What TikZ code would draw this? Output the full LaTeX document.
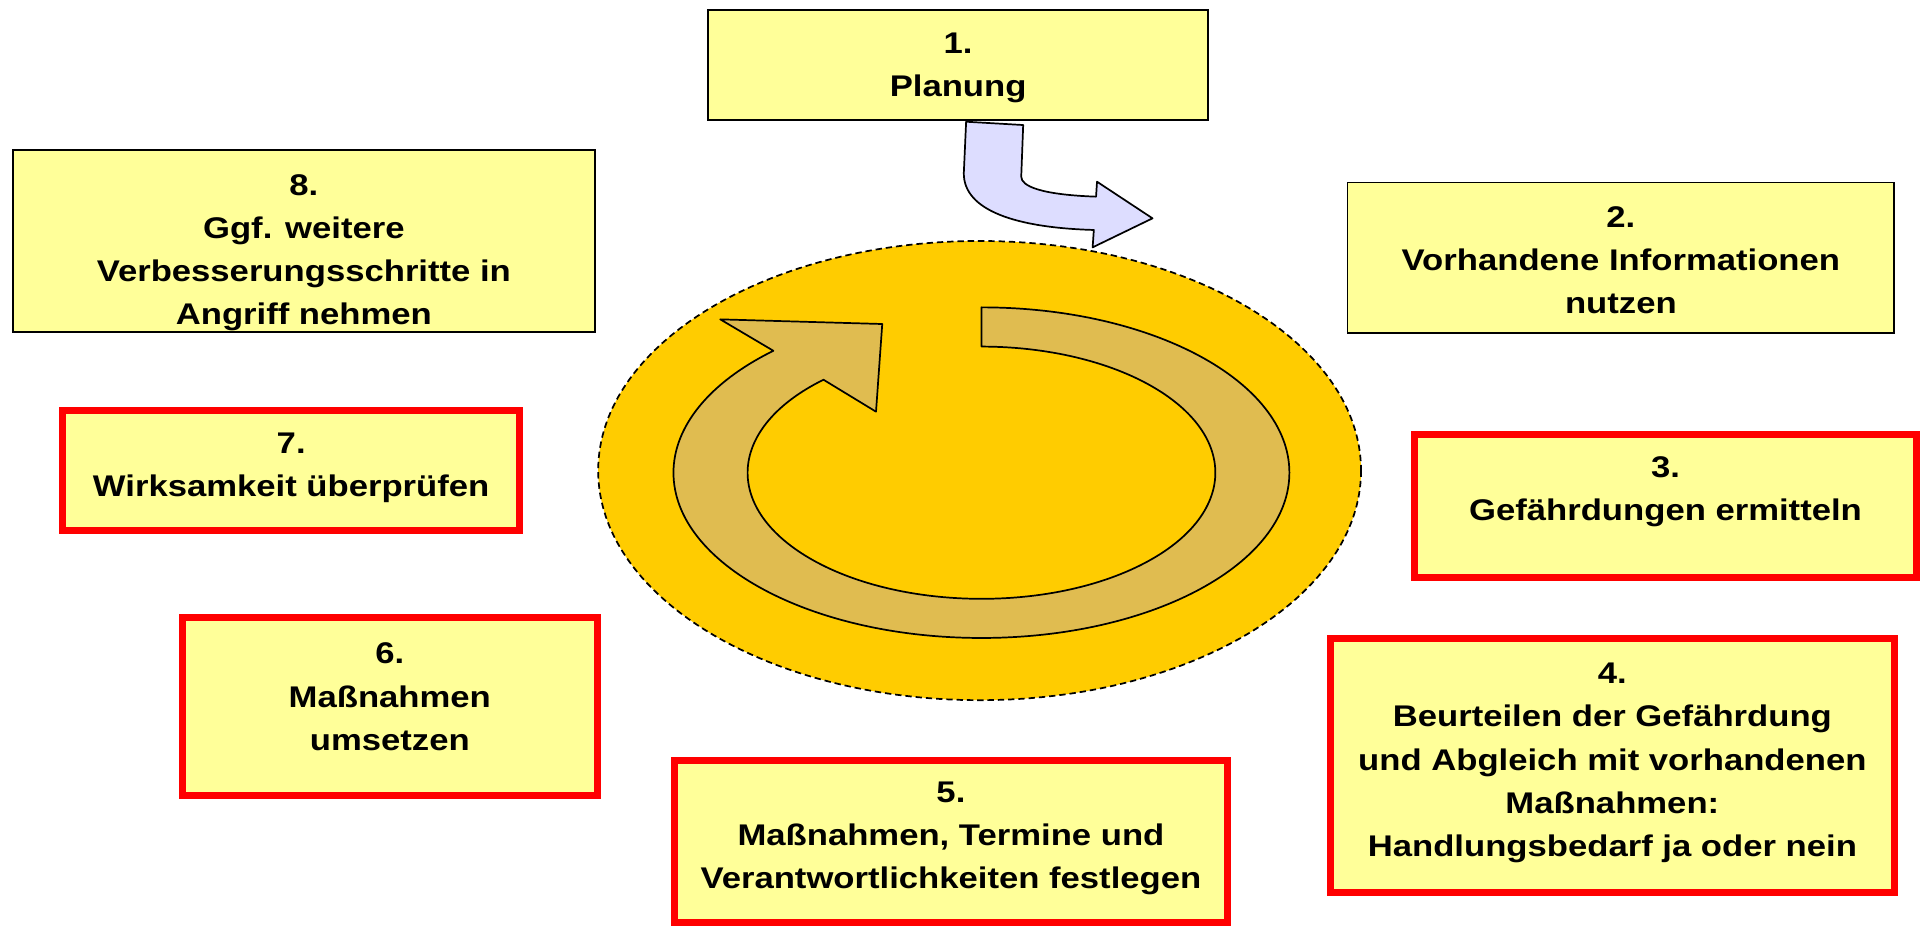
\documentclass[tikz,border=0pt]{standalone}
\usepackage{fontspec}
\setmainfont{Liberation Sans}[FakeStretch=1.16]
\definecolor{boxyellow}{RGB}{255,255,153}
\definecolor{boxred}{RGB}{255,0,0}
\definecolor{gold}{RGB}{255,204,0}
\definecolor{bandgold}{RGB}{224,188,80}
\definecolor{lavender}{RGB}{221,221,255}
\tikzset{
  plainbox/.style={draw=black, line width=0.75pt, fill=boxyellow, rectangle, inner sep=0pt},
  redbox/.style={draw=boxred, line width=2.85pt, fill=boxyellow, rectangle, inner sep=0pt},
  boxtext/.style={font=\fontsize{12.2pt}{17.6pt}\selectfont\bfseries, align=center, inner sep=0pt, anchor=north},
  outline/.style={draw=black, line width=0.7pt, line join=round}
}
\begin{document}
\begin{tikzpicture}[x=0.5pt, y=-0.5pt]
\useasboundingbox (0,0) rectangle (1568,756);
\fill[white] (0,0) rectangle (1568,756);

% central dashed ellipse
\draw[fill=gold, draw=black, line width=0.7pt, dash pattern=on 2.6pt off 1.6pt]
  (800,384.3) ellipse [x radius=311.5, y radius=187.5];

% circular arrow
\path[outline, fill=bandgold]
  (801.5,251) arc[start angle=-90, end angle=227.5, x radius=251.5, y radius=135]
  -- (588.2,260.8) -- (720.5,264.6) -- (715.4,336.2) -- (672.5,310.1)
  arc[start angle=227.5, end angle=-90, x radius=191, y radius=103]
  -- cycle;

% boxes
\node[plainbox, minimum width=204.25pt, minimum height=44.85pt] (b1) at (782.45,53.05) {};
\node[plainbox, minimum width=223.3pt, minimum height=61.6pt] (b2) at (1323.7,210.6) {};
\node[redbox, minimum width=204.7pt, minimum height=58.4pt] (b3) at (1360.15,413.25) {};
\node[redbox, minimum width=230.3pt, minimum height=103.7pt] (b4) at (1316.75,625.15) {};
\node[redbox, minimum width=225.75pt, minimum height=66.15pt] (b5) at (776.6,687) {};
\node[redbox, minimum width=169.3pt, minimum height=72.85pt] (b6) at (318.35,577.1) {};
\node[redbox, minimum width=186.75pt, minimum height=49.15pt] (b7) at (237.8,384.1) {};
\node[plainbox, minimum width=237.85pt, minimum height=74.3pt] (b8) at (248.15,196.8) {};

% bent arrow from Planung
\path[outline, fill=lavender]
  (789,99.4) -- (835.6,102.1) -- (834,144.3)
  .. controls (834,152) and (850,159) .. (895.1,160.6)
  -- (895.9,148.4) -- (941.2,178.3) -- (892.3,202) -- (893.3,187.8)
  .. controls (830,186) and (787,172) .. (787.1,141.5) -- cycle;

% texts
\node[boxtext] (t1) at (782.45,26.3) {1.\\Planung};
\node[boxtext] (t2) at (1323.7,168.3) {2.\\Vorhandene Informationen\\nutzen};
\node[boxtext] (t3) at (1360.15,372.3) {3.\\Gefährdungen ermitteln};
\node[boxtext] (t4) at (1316.75,541.3) {4.\\Beurteilen der Gefährdung\\und Abgleich mit vorhandenen\\Maßnahmen:\\Handlungsbedarf ja oder nein};
\node[boxtext] (t5) at (776.6,637.8) {5.\\Maßnahmen, Termine und\\Verantwortlichkeiten festlegen};
\node[boxtext] (t6) at (318.35,524.8) {6.\\Maßnahmen\\umsetzen};
\node[boxtext] (t7) at (237.8,353.3) {7.\\Wirksamkeit überprüfen};
\node[boxtext] (t8) at (248.15,142.3) {8.\\Ggf. weitere\\Verbesserungsschritte in\\Angriff nehmen};
\end{tikzpicture}
\end{document}
